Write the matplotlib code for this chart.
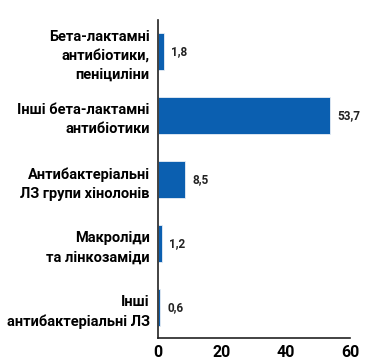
import matplotlib
matplotlib.use("Agg")
import matplotlib.pyplot as plt

categories = [
    "Бета-лактамні\nантибіотики,\nпеніциліни",
    "Інші бета-лактамні\nантибіотики",
    "Антибактеріальні\nЛЗ групи хінолонів",
    "Макроліди\nта лінкозаміди",
    "Інші\nантибактеріальні ЛЗ",
]
values = [1.8, 53.7, 8.5, 1.2, 0.6]
value_labels = ["1,8", "53,7", "8,5", "1,2", "0,6"]
xticks = [0, 20, 40, 60]

plt.rcParams['font.family'] = ['Roboto', 'DejaVu Sans']

fig = plt.figure(figsize=(3.65, 3.61), dpi=100)
ax = fig.add_axes([0.433, 0.064, 0.526, 0.881])

ypos = list(range(len(categories)))
ax.barh(ypos, values, height=0.58, color="#0b5fb0", edgecolor="#e8eef5", linewidth=0.6)
for y, v, lab in zip(ypos, values, value_labels):
    ax.text(v + 2.2, y, lab, va="center", ha="left", fontsize=8.5,
            fontweight="bold", color="#222222")

ax.set_xlim(0, 60)
ax.set_ylim(4.47, -0.5)
ax.set_xticks(xticks)
ax.set_xticklabels([str(t) for t in xticks], fontsize=11.5, fontweight="bold")
ax.set_yticks(ypos)
ax.set_yticklabels(categories, fontsize=10.5, fontweight="bold", linespacing=1.45)
ax.tick_params(axis="y", length=0, pad=6)
ax.tick_params(axis="x", length=0, pad=5)
for s in ["top", "right"]:
    ax.spines[s].set_visible(False)
ax.spines["left"].set_linewidth(1.2)
ax.spines["bottom"].set_linewidth(1.2)
ax.spines["left"].set_color("#222222")
ax.spines["bottom"].set_color("#222222")

fig.savefig("out.png", dpi=100)
